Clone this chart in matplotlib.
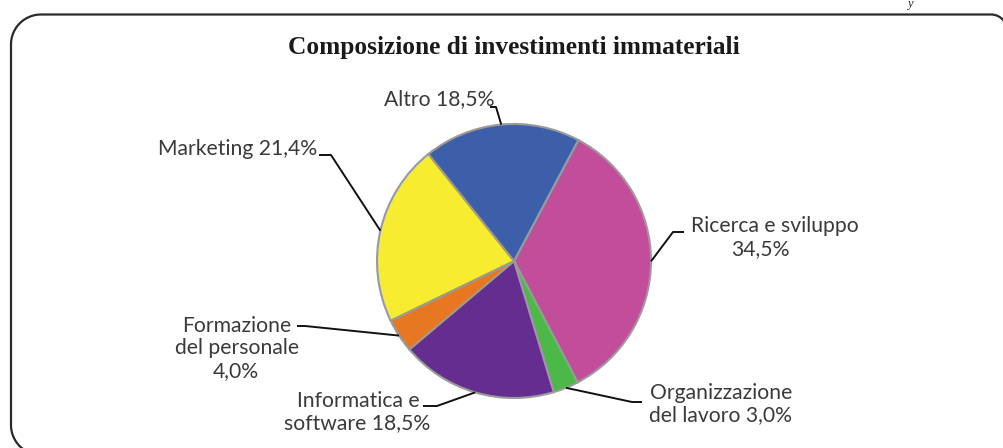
import numpy as np
import matplotlib
matplotlib.use("Agg")
import matplotlib.pyplot as plt

# ---- data ----
categories = ["Ricerca e sviluppo", "Organizzazione del lavoro", "Informatica e software",
              "Formazione del personale", "Marketing", "Altro"]
values = [34.5, 3.0, 18.5, 4.0, 21.4, 18.5]
colors = ["#C24E9B", "#4BB848", "#662D91", "#E87722", "#F7EC2F", "#3D5EA8"]
title = "Composizione di investimenti immateriali"

W, H = 1004, 448
fig = plt.figure(figsize=(W / 100, H / 100), dpi=100)
ax = fig.add_axes([0, 0, 1, 1])

def Y(yp):
    return H - yp

cx, cy, R = 514, Y(261), 137
wedges, _ = ax.pie(values, colors=colors, startangle=62, counterclock=False,
                   center=(cx, cy), radius=R,
                   wedgeprops=dict(edgecolor="#9a9a9a", linewidth=1.5))
ax.set_xlim(0, W)
ax.set_ylim(0, H)
ax.set_aspect("equal")
ax.axis("off")

# decorative rounded frame (pixel coordinates, top-origin), open on the right side
def arc(xc, yc, r, a0, a1, n=40):
    t = np.linspace(np.deg2rad(a0), np.deg2rad(a1), n)
    return list(zip(xc + r * np.cos(t), yc - r * np.sin(t)))

left, top, bottom, r = 11, 14.5, 455, 30
pts = arc(991, top + 16, 16, 90, 0)[::-1]          # top-right corner
pts = pts + arc(left + r, top + r, r, 90, 180)     # top-left corner
pts = pts + arc(left + r, bottom - r, r, 180, 270) # bottom-left corner
fr = np.array(pts)
ax.plot(fr[:, 0], Y(fr[:, 1]), color="#2a2a2a", lw=1.6, clip_on=True)

ax.text(910, Y(4), "y", fontsize=9, family="Liberation Serif", style="italic",
        color="#222222", ha="center", va="center")

ax.text(514, Y(47), title, fontsize=18.3, family="Liberation Serif", weight="bold",
        color="#1a1a1a", ha="center", va="center")

# layout of leader lines: elbow and end (pixels)
layout = {
    "Ricerca e sviluppo": dict(elbow=(673, 232), end=(684, 232)),
    "Organizzazione del lavoro": dict(elbow=(632, 402), end=(642, 402)),
    "Informatica e software": dict(elbow=(437, 406), end=(423, 406)),
    "Formazione del personale": dict(elbow=(305, 326), end=(297, 326)),
    "Marketing": dict(elbow=(331, 155), end=(319, 155)),
    "Altro": dict(elbow=(496, 107), end=(490, 107)),
}
text_pos = {
    "Ricerca e sviluppo": [((775, 226), "Ricerca e sviluppo"), ((760, 249), "34,5%")],
    "Organizzazione del lavoro": [((721, 393), "Organizzazione"), ((721, 415), "del lavoro 3,0%")],
    "Informatica e software": [((358, 401), "Informatica e"), ((357, 423), "software 18,5%")],
    "Formazione del personale": [((237, 326), "Formazione"), ((237, 348), "del personale"), ((236, 371), "4,0%")],
    "Marketing": [((238, 149), "Marketing 21,4%")],
    "Altro": [((439, 99), "Altro 18,5%")],
}
lab_font = dict(fontsize=15.2, family="Lato", weight="normal", color="#3a3a3a",
                ha="center", va="center")

for w, cat in zip(wedges, categories):
    ang = np.deg2rad((w.theta1 + w.theta2) / 2)
    ax_, ay_ = cx + R * np.cos(ang), cy + R * np.sin(ang)
    lay = layout[cat]
    ex, ey = lay["elbow"]
    nx, ny = lay["end"]
    ax.plot([ax_, ex, nx], [ay_, Y(ey), Y(ny)], color="#111111", lw=1.4,
            solid_capstyle="butt")
    for (tx, ty), s in text_pos[cat]:
        ax.text(tx, Y(ty), s, **lab_font)

fig.savefig("out.png", dpi=100)
